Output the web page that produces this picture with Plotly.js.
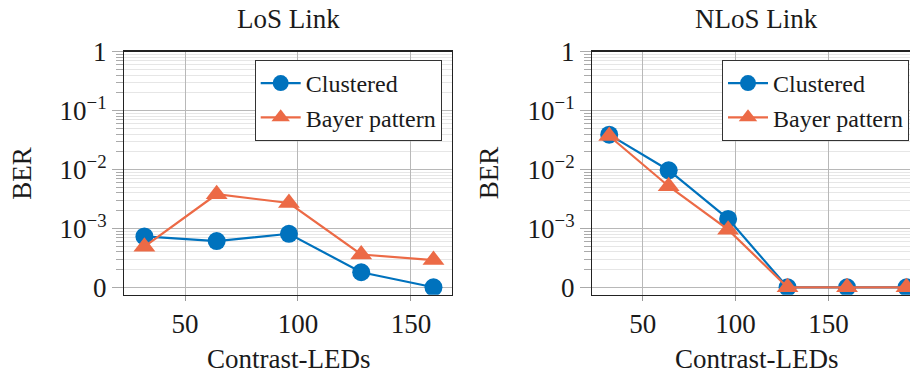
<!DOCTYPE html>
<html>
<head>
<meta charset="utf-8">
<script src="https://cdn.plot.ly/plotly-3.0.1.min.js"></script>
<style>html,body{margin:0;padding:0;background:#fff}#chart{width:910px;height:373px}</style>
</head>
<body>
<div id="chart"></div>
<script>
// ---- data ----
const xLoS = [32, 64, 96, 128, 160];
const berLoSClustered = [7.3e-4, 6.1e-4, 8.1e-4, 1.8e-4, 0];
const berLoSBayer = [4.9e-4, 3.8e-3, 2.7e-3, 3.6e-4, 2.9e-4];

const xNLoS = [32, 64, 96, 128, 160, 192];
const berNLoSClustered = [3.9e-2, 9.7e-3, 1.45e-3, 0, 0, 0];
const berNLoSBayer = [3.7e-2, 5.2e-3, 9.5e-4, 0, 0, 0];

const seriesNames = ['Clustered', 'Bayer pattern'];
const panelTitles = ['LoS Link', 'NLoS Link'];
const xTitle = 'Contrast-LEDs';
const yTitle = 'BER';
const xTickVals = [50, 100, 150];
const yTickVals = [1e-4, 1e-3, 1e-2, 1e-1, 1];
const yTickText = ['0', '10<sup>\u22123</sup>', '10<sup>\u22122</sup>', '10<sup>\u22121</sup>', '1'];

// value 0 is drawn on the axis position labelled "0"
const ZERO_LEVEL = 1e-4;
const toPlot = arr => arr.map(v => v === 0 ? ZERO_LEVEL : v);

const minorVals = [];
for (let d = -4; d < 0; d++) for (let k = 2; k <= 9; k++) minorVals.push(k * Math.pow(10, d));

const W = 910, H = 373;
const px = v => v / W, py = v => 1 - v / H;

const BLUE = '#0072BD', ORANGE = '#EC6A46';
const FONT = 'Liberation Serif';
const TXT = '#1a1a1a';

const mk = (x, y, name, color, sym, size, xa, ya, leg) => ({
  x: x, y: toPlot(y), name: name, type: 'scatter', mode: 'lines+markers',
  xaxis: xa, yaxis: ya, legend: leg,
  line: {color: color, width: 2.2},
  marker: {color: color, symbol: sym, size: size}
});

const traces = [
  mk(xLoS, berLoSClustered, seriesNames[0], BLUE, 'circle', 18, 'x', 'y', 'legend'),
  mk(xLoS, berLoSBayer, seriesNames[1], ORANGE, 'triangle-up', 19, 'x', 'y', 'legend'),
  mk(xNLoS, berNLoSClustered, seriesNames[0], BLUE, 'circle', 18, 'x2', 'y2', 'legend2'),
  mk(xNLoS, berNLoSBayer, seriesNames[1], ORANGE, 'triangle-up', 19, 'x2', 'y2', 'legend2')
];

const yDom = [py(294.7), py(51.7)];
const xBase = (dom, range, mirror, anchor) => ({
  domain: dom, range: range, anchor: anchor, tickmode: 'array', tickvals: xTickVals,
  showgrid: true, gridcolor: '#b8b8b8', gridwidth: 1,
  ticks: 'outside', ticklen: 5, tickcolor: '#999', tickwidth: 1,
  showline: true, linecolor: '#222', linewidth: 1.3, mirror: mirror,
  zeroline: false, tickfont: {size: 27, family: FONT, color: TXT}, ticklabelstandoff: 0
});
const yBase = (anchor, mirror) => ({
  type: 'log', domain: yDom, range: [-4.126, 0], anchor: anchor,
  tickmode: 'array', tickvals: yTickVals, ticktext: yTickText,
  showgrid: true, gridcolor: '#b8b8b8', gridwidth: 1,
  ticks: 'outside', ticklen: 11, tickcolor: '#aaa', tickwidth: 1,
  minor: {tickmode: 'array', tickvals: minorVals, ticks: 'outside', ticklen: 7,
          tickcolor: '#aaa', showgrid: true, gridcolor: '#e6e6e6', gridwidth: 1},
  showline: true, linecolor: '#222', linewidth: 1.3, mirror: mirror,
  zeroline: false, tickfont: {size: 27, family: FONT, color: TXT}
});

const legBase = (xr) => ({
  x: px(xr), xanchor: 'right', y: py(60), yanchor: 'top',
  bgcolor: '#fff', bordercolor: '#333', borderwidth: 1,
  font: {size: 24, family: FONT, color: TXT}, itemwidth: 40, tracegroupgap: 0
});

const ann = (text, x, y, extra) => Object.assign({
  text: text, x: px(x), y: py(y), xref: 'paper', yref: 'paper',
  showarrow: false, xanchor: 'center', yanchor: 'middle',
  font: {size: 27, family: FONT, color: TXT}
}, extra || {});

const layout = {
  width: W, height: H, margin: {l: 0, r: 0, t: 0, b: 0},
  paper_bgcolor: '#fff', plot_bgcolor: '#fff',
  font: {family: FONT, color: TXT, size: 27},
  xaxis: xBase([px(124.3), px(452)], [23.1, 168.2], true, 'y'),
  yaxis: yBase('x', true),
  xaxis2: xBase([px(592.3), 1], [22.9, 193.9], true, 'y2'),
  yaxis2: yBase('x2', false),
  showlegend: true,
  legend: legBase(441.7),
  legend2: legBase(909),
  annotations: [
    ann(panelTitles[0], 288, 19),
    ann(panelTitles[1], 756, 19),
    ann(xTitle, 288, 359),
    ann(xTitle, 756, 359),
    ann(yTitle, 21.7, 173, {textangle: -90}),
    ann(yTitle, 489.3, 173, {textangle: -90})
  ]
};

Plotly.newPlot('chart', traces, layout, {staticPlot: true, displayModeBar: false});
</script>
</body>
</html>
